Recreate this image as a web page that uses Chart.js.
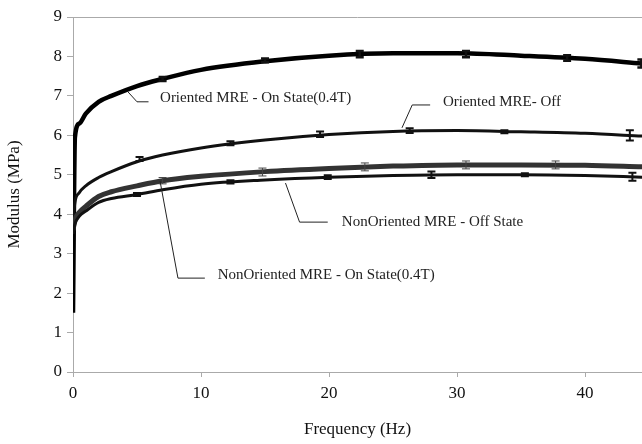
<!DOCTYPE html>
<html>
<head>
<meta charset="utf-8">
<script src="https://cdn.jsdelivr.net/npm/chart.js@4"></script>
<style>
    html, body { margin: 0; padding: 0; background: #fff; }
    #wrap { width: 642px; height: 444px; }
</style>
</head>
<body>
<div id="wrap"><canvas id="c" width="642" height="444"></canvas></div>
<script>
// frequency grid (Hz) shared by the four curves
const freq = [0, 0.15, 0.5, 1, 2, 3, 5, 7, 10, 15, 20, 25, 30, 35, 40, 44.5];

const orientedOn  = [1.5, 5.95, 6.3, 6.55, 6.85, 7.0, 7.25, 7.43, 7.66, 7.88, 8.02, 8.08, 8.08, 8.02, 7.94, 7.82];
const orientedOff = [3.8, 4.3, 4.55, 4.72, 4.93, 5.08, 5.33, 5.5, 5.68, 5.88, 6.02, 6.1, 6.12, 6.09, 6.05, 5.98];
const nonOrientedOff = [3.6, 3.85, 4.05, 4.2, 4.45, 4.57, 4.72, 4.85, 4.96, 5.08, 5.16, 5.22, 5.25, 5.25, 5.24, 5.2];
const nonOrientedOn  = [3.5, 3.75, 3.95, 4.08, 4.3, 4.4, 4.5, 4.62, 4.76, 4.87, 4.94, 4.98, 5.0, 5.0, 4.98, 4.94];

// error bar markers
const onBarX = [7, 15, 22.4, 30.7, 38.6, 44.4];
const onBarY = [7.43, 7.9, 8.06, 8.06, 7.96, 7.82];
const onBarErr = [0.05, 0.05, 0.08, 0.08, 0.07, 0.1];

const offBarX = [5.2, 12.3, 19.3, 26.3, 33.7, 43.5];
const offBarY = [5.4, 5.8, 6.03, 6.12, 6.09, 6.0];
const offBarErr = [0.05, 0.05, 0.07, 0.06, 0.04, 0.13];

const nonOffBarX = [7, 14.8, 22.8, 30.7, 37.7];
const nonOffBarY = [4.85, 5.07, 5.2, 5.25, 5.25];
const nonOffBarErr = [0.08, 0.1, 0.1, 0.1, 0.1];

const nonOnBarX = [5, 12.3, 19.9, 28, 35.3, 43.7];
const nonOnBarY = [4.5, 4.82, 4.94, 5.0, 5.0, 4.95];
const nonOnBarErr = [0.04, 0.04, 0.05, 0.08, 0.04, 0.1];

const xTicks = [0, 10, 20, 30, 40];
const yTicks = [0, 1, 2, 3, 4, 5, 6, 7, 8, 9];

// annotation labels: text, anchor (x, y) in data units, leader polyline
const labels = [
    { text: "Oriented MRE - On State(0.4T)", x: 6.8, y: 6.95, leader: [[4.3, 7.1], [5.0, 6.85], [5.9, 6.85]] },
    { text: "Oriented MRE- Off", x: 28.9, y: 6.85, leader: [[25.7, 6.19], [26.5, 6.77], [27.9, 6.77]] },
    { text: "NonOriented MRE - Off State", x: 21.0, y: 3.8, leader: [[16.6, 4.79], [17.7, 3.8], [19.9, 3.8]] },
    { text: "NonOriented MRE - On State(0.4T)", x: 11.3, y: 2.45, leader: [[6.8, 4.84], [8.2, 2.38], [10.3, 2.38]] },
];

const SERIF = "'Liberation Serif', 'DejaVu Serif', serif";

function pts(xs, ys) {
    return xs.map(function (x, i) { return { x: x, y: ys[i] }; });
}

function lineSet(ys, color, width) {
    return {
        type: "line",
        data: pts(freq, ys),
        borderColor: color,
        borderWidth: width,
        pointRadius: 0,
        cubicInterpolationMode: "monotone",
        fill: false,
    };
}

const errorBars = [
    { xs: onBarX, ys: onBarY, err: onBarErr, color: "#111", width: 2.5 },
    { xs: offBarX, ys: offBarY, err: offBarErr, color: "#111", width: 2 },
    { xs: nonOffBarX, ys: nonOffBarY, err: nonOffBarErr, color: "#444", width: 1 },
    { xs: nonOnBarX, ys: nonOnBarY, err: nonOnBarErr, color: "#111", width: 2 },
];

const decorPlugin = {
    id: "decor",
    afterDatasetsDraw: function (chart) {
        const ctx = chart.ctx;
        const xs = chart.scales.x, ys = chart.scales.y;
        const area = chart.chartArea;
        ctx.save();
        // top frame line
        ctx.strokeStyle = "#aaa";
        ctx.lineWidth = 1;
        ctx.beginPath();
        ctx.moveTo(area.left, ys.getPixelForValue(9) + 0.5);
        ctx.lineTo(area.right, ys.getPixelForValue(9) + 0.5);
        ctx.stroke();

        // error bars
        errorBars.forEach(function (b) {
            ctx.strokeStyle = b.color;
            ctx.lineWidth = b.width;
            b.xs.forEach(function (x, i) {
                const px = xs.getPixelForValue(x);
                const top = ys.getPixelForValue(b.ys[i] + b.err[i]);
                const bot = ys.getPixelForValue(b.ys[i] - b.err[i]);
                ctx.beginPath();
                ctx.moveTo(px, top);
                ctx.lineTo(px, bot);
                ctx.moveTo(px - 4, top);
                ctx.lineTo(px + 4, top);
                ctx.moveTo(px - 4, bot);
                ctx.lineTo(px + 4, bot);
                ctx.stroke();
            });
        });

        // labels with leader lines
        ctx.strokeStyle = "#222";
        ctx.lineWidth = 1;
        ctx.fillStyle = "#222";
        ctx.font = "15px " + SERIF;
        ctx.textBaseline = "middle";
        ctx.textAlign = "left";
        labels.forEach(function (l) {
            ctx.beginPath();
            l.leader.forEach(function (p, i) {
                const px = xs.getPixelForValue(p[0]), py = ys.getPixelForValue(p[1]);
                if (i === 0) ctx.moveTo(px, py); else ctx.lineTo(px, py);
            });
            ctx.stroke();
            ctx.fillText(l.text, xs.getPixelForValue(l.x), ys.getPixelForValue(l.y));
        });
        ctx.restore();
    },
};

new Chart(document.getElementById("c"), {
    type: "line",
    data: {
        datasets: [
            lineSet(nonOrientedOn, "#111", 3),
            Object.assign(lineSet(nonOrientedOff, "#333", 5), {}),
            lineSet(nonOrientedOff, "#9a9a9a", 2.5),
            lineSet(orientedOff, "#111", 3),
            lineSet(orientedOn, "#000", 4.5),
        ],
    },
    options: {
        responsive: false,
        animation: false,
        layout: { padding: { top: 17, right: 0, left: 0, bottom: 0 } },
        plugins: { legend: { display: false }, tooltip: { enabled: false } },
        scales: {
            x: {
                type: "linear",
                min: 0,
                max: 44.45,
                afterBuildTicks: function (s) { s.ticks = xTicks.map(function (v) { return { value: v }; }); },
                afterFit: function (s) { s.height = 72; },
                grid: { drawOnChartArea: false, drawTicks: true, tickLength: 5, color: "#aaa" },
                border: { color: "#aaa" },
                ticks: { color: "#111", font: { family: SERIF, size: 17 }, padding: 6, maxRotation: 0 },
                title: { display: true, text: "Frequency (Hz)", color: "#111", font: { family: SERIF, size: 17 }, padding: { top: 4 } },
            },
            y: {
                min: 0,
                max: 9,
                afterBuildTicks: function (s) { s.ticks = yTicks.map(function (v) { return { value: v }; }); },
                afterFit: function (s) { s.width = 73; },
                grid: { drawOnChartArea: false, drawTicks: true, tickLength: 6, color: "#aaa" },
                border: { color: "#aaa" },
                ticks: { color: "#111", font: { family: SERIF, size: 17 }, padding: 5 },
                title: { display: true, text: "Modulus (MPa)", color: "#111", font: { family: SERIF, size: 17 }, padding: { bottom: 2 } },
            },
        },
    },
    plugins: [decorPlugin],
});
</script>
</body>
</html>
